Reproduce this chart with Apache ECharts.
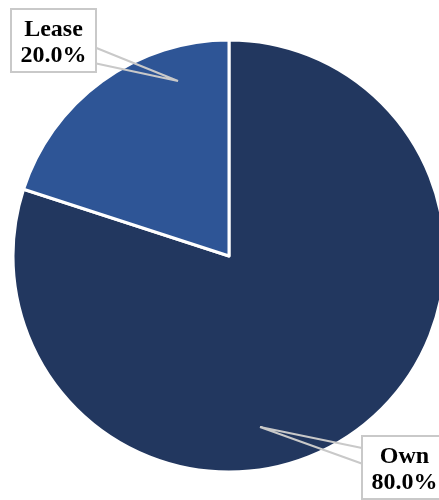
<!DOCTYPE html>
<html>
<head>
<meta charset="utf-8">
<script src="https://cdn.jsdelivr.net/npm/echarts@6/dist/echarts.min.js"></script>
<style>html,body{margin:0;padding:0;background:#fff;}#c{width:439px;height:500px;}</style>
</head>
<body>
<div id="c"></div>
<script>
const categories = ['Own', 'Lease'];
const values = [80, 20];
const colors = ['#22375F', '#2E5596'];

const chart = echarts.init(document.getElementById('c'), null, {renderer: 'canvas'});
const labelLayoutCfg = {
  'Own': {x: 404.5, y: 437, line: [[362, 448], [260, 427], [363, 464]]},
  'Lease': {x: 53.5, y: 10, line: [[94, 47], [178, 81], [94, 63]]}
};
chart.setOption({
  animation: false,
  series: [{
    type: 'pie',
    z: 2,
    center: [229, 256],
    radius: [0, 216],
    startAngle: 90,
    clockwise: true,
    silent: true,
    data: categories.map((c, i) => ({name: c, value: values[i], itemStyle: {color: colors[i]}})),
    itemStyle: {borderColor: '#ffffff', borderWidth: 3},
    label: {show: false},
    labelLine: {show: false}
  }, {
    type: 'pie',
    z: 5,
    center: [229, 256],
    radius: [0, 216],
    startAngle: 90,
    clockwise: true,
    silent: true,
    data: categories.map((c, i) => ({name: c, value: values[i]})),
    itemStyle: {color: 'rgba(0,0,0,0)', borderWidth: 0},
    label: {
      show: true,
      position: 'outside',
      formatter: p => p.name + '\n' + p.percent.toFixed(1) + '%',
      fontFamily: 'Liberation Serif',
      fontWeight: 'bold',
      fontSize: 24,
      lineHeight: 26,
      color: '#000',
      backgroundColor: '#fff',
      borderColor: '#c9c9c9',
      borderWidth: 2,
      width: 63,
      padding: [7, 10, 2, 10],
      overflow: 'none',
      align: 'center'
    },
    labelLine: {show: true, lineStyle: {color: '#c9c9c9', width: 2}},
    labelLayout: function (params) {
      const p = labelLayoutCfg[params.text.split('\n')[0]];
      return {x: p.x, y: p.y, align: 'center', verticalAlign: 'top', labelLinePoints: p.line};
    }
  }]
});
</script>
</body>
</html>
